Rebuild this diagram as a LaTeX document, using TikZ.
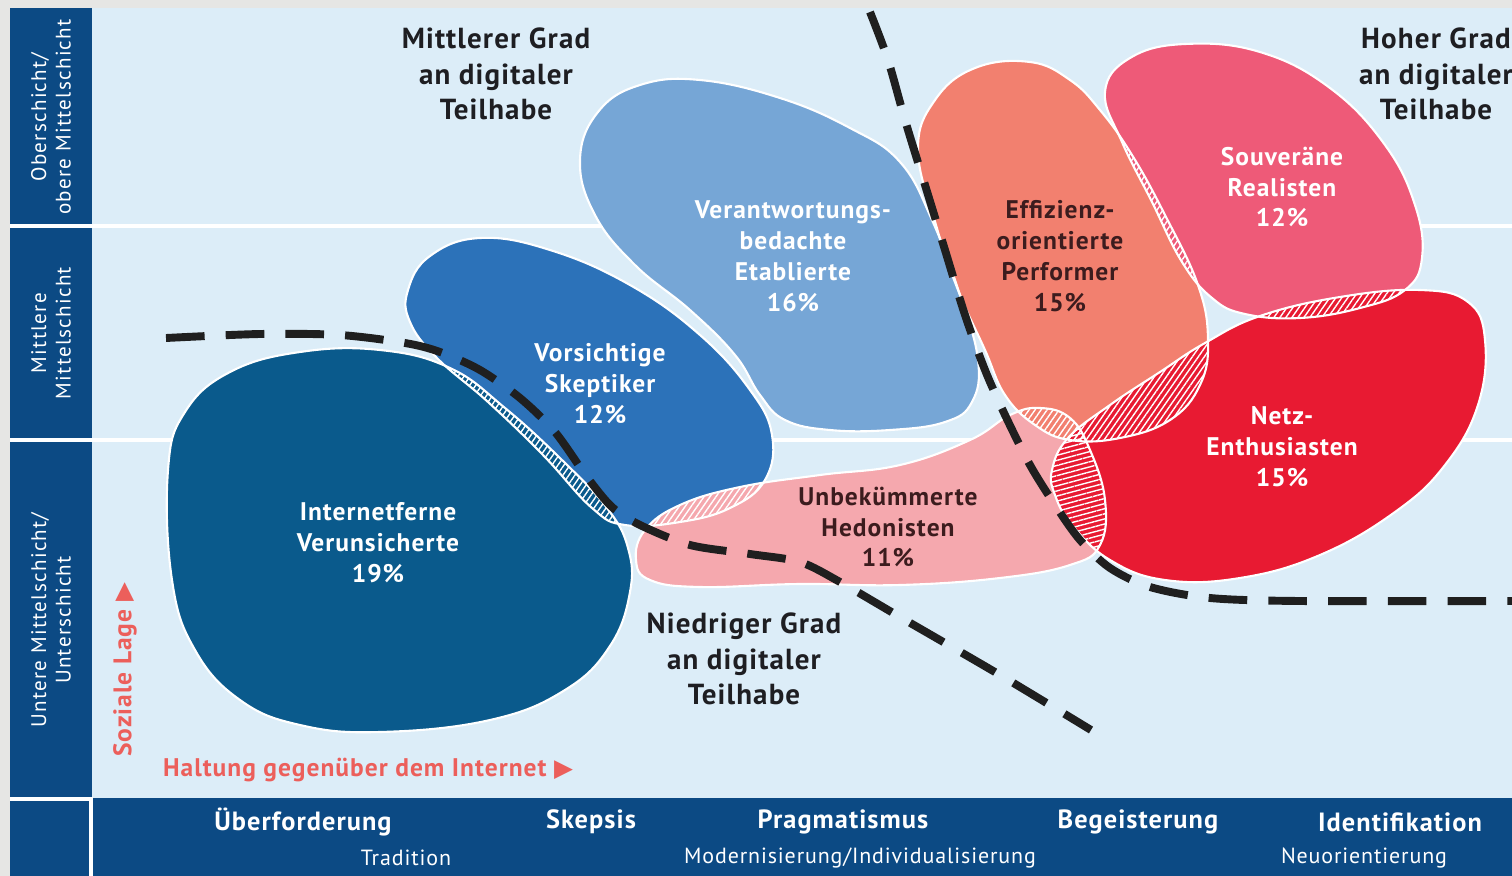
\documentclass[tikz,border=0pt]{standalone}
\usepackage{fontspec}
\setmainfont{PT Sans}
\newfontfamily\symfont{DejaVu Sans}
\newfontfamily\lsfont[LetterSpace=4]{PT Sans}
\newfontfamily\spacedfont[LetterSpace=6]{PT Sans}
\usetikzlibrary{patterns.meta}
\definecolor{outerc}{HTML}{E6E6E4}
\definecolor{panelc}{HTML}{DCEDF8}
\definecolor{navyc}{HTML}{0C4A84}
\definecolor{cI}{HTML}{0A5A8C}
\definecolor{cV}{HTML}{2C72B9}
\definecolor{cE}{HTML}{76A6D6}
\definecolor{cP}{HTML}{F2806F}
\definecolor{cS}{HTML}{EE5A78}
\definecolor{cN}{HTML}{E81A32}
\definecolor{cH}{HTML}{F5A8AE}
\definecolor{salmonc}{HTML}{EC5F5B}
\definecolor{headc}{HTML}{1E1E22}
\definecolor{darklbl}{HTML}{3C1C1E}
\def\pathI{plot[smooth cycle,tension=0.7] coordinates{(168,470) (185,412) (230,372) (300,352) (380,350) (450,368) (505,408) (562,460) (607,508) (628,548) (630,592) (610,646) (565,690) (490,720) (380,732) (300,725) (240,700) (195,650) (172,580)}}
\def\pathV{plot[smooth cycle,tension=0.7] coordinates{(408,290) (430,256) (480,238) (550,250) (630,285) (700,335) (750,390) (772,435) (765,480) (730,508) (680,522) (625,525) (592,508) (543,455) (488,402) (437,358) (410,322)}}
\def\pathE{plot[smooth cycle,tension=0.7] coordinates{(580,160) (598,112) (640,85) (700,80) (780,98) (850,128) (900,162) (932,220) (960,295) (978,360) (972,402) (945,422) (890,430) (830,430) (785,420) (760,395) (735,355) (690,310) (635,265) (595,215)}}
\def\pathP{plot[smooth cycle,tension=0.7] coordinates{(918,150) (935,100) (975,68) (1030,62) (1070,80) (1100,110) (1132,155) (1165,215) (1198,285) (1208,340) (1200,385) (1170,420) (1120,438) (1070,440) (1035,425) (1005,395) (985,350) (958,290) (936,225)}}
\def\pathS{plot[smooth cycle,tension=0.7] coordinates{(1105,92) (1130,58) (1185,44) (1260,52) (1330,88) (1385,145) (1415,205) (1422,258) (1405,290) (1360,308) (1300,318) (1245,314) (1212,298) (1182,262) (1152,202) (1122,142)}}
\def\pathN{plot[smooth cycle,tension=0.7] coordinates{(1052,470) (1068,438) (1110,405) (1160,372) (1205,343) (1260,316) (1340,297) (1420,290) (1468,302) (1485,340) (1478,405) (1445,465) (1395,512) (1320,555) (1240,578) (1165,580) (1110,560) (1072,525) (1055,495)}}
\def\pathH{plot[smooth cycle,tension=0.7] coordinates{(636,560) (645,530) (680,505) (740,487) (820,475) (900,465) (970,440) (1010,415) (1040,408) (1070,418) (1090,450) (1105,500) (1100,545) (1070,565) (1000,578) (900,585) (800,584) (700,587) (650,580)}}
\begin{document}
\begin{tikzpicture}[x=0.02cm,y=-0.02cm,
  lbl/.style={font=\lsfont\bfseries\fontsize{14.5}{17.6}\selectfont,align=center,text=white,inner sep=0pt},
  hd/.style={font=\lsfont\bfseries\fontsize{16.5}{20.4}\selectfont,align=center,text=headc,inner sep=0pt},
  axl/.style={font=\lsfont\bfseries\fontsize{15}{17}\selectfont,text=white,inner sep=0pt},
  axs/.style={font=\lsfont\fontsize{12.5}{14}\selectfont,text=white,inner sep=0pt},
  coll/.style={font=\spacedfont\fontsize{12}{14}\selectfont,text=white,align=center,rotate=90,inner sep=0pt},
  axt/.style={font=\lsfont\bfseries\fontsize{14.5}{16}\selectfont,text=salmonc,inner sep=0pt},
  bnd/.style={line width=4.5pt,dash pattern=on 22pt off 12pt,black!88},
  hatch/.style={pattern={Lines[angle=55,distance=2.8pt,line width=0.8pt]},pattern color=white},
  outl/.style={draw=white,line width=1.2pt}]
\useasboundingbox (0,0) rectangle (1512,876);
% background
\fill[outerc] (0,0) rectangle (1512,876);
\fill[panelc] (92,8) rectangle (1512,798);
\fill[navyc] (10,8) rectangle (92,876);
\fill[navyc] (92,798) rectangle (1512,876);
\draw[white,line width=1.8pt] (10,226) -- (1512,226);
\draw[white,line width=1.8pt] (10,440) -- (1512,440);
\draw[white,line width=1.8pt] (10,799) -- (91,799) -- (91,876);
% blobs
\fill[cE] \pathE;
\fill[cV] \pathV;
\fill[cI] \pathI;
\fill[cH] \pathH;
\fill[cP] \pathP;
\fill[cS] \pathS;
\fill[cN] \pathN;
% overlaps
\begin{scope}\clip \pathI; \fill[hatch] \pathV; \end{scope}
\begin{scope}\clip \pathV; \fill[hatch] \pathE; \end{scope}
\begin{scope}\clip \pathV; \fill[hatch] \pathH; \end{scope}
\begin{scope}\clip \pathE; \fill[hatch] \pathP; \end{scope}
\begin{scope}\clip \pathP; \fill[hatch] \pathS; \end{scope}
\begin{scope}\clip \pathP; \fill[hatch] \pathN; \end{scope}
\begin{scope}\clip \pathP; \fill[hatch] \pathH; \end{scope}
\begin{scope}\clip \pathS; \fill[hatch] \pathN; \end{scope}
\begin{scope}\clip \pathH; \fill[pattern={Lines[angle=15,distance=2.8pt,line width=0.8pt]},pattern color=white] \pathN; \end{scope}
% outlines
\foreach \p in {\pathE,\pathV,\pathI,\pathH,\pathP,\pathS,\pathN} {\draw[outl] \p;}
% boundaries
\draw[bnd] plot[smooth,tension=0.5] coordinates{(166,338) (260,334) (340,335) (405,343) (440,352) (480,370) (520,398) (555,432) (587,477) (612,507) (640,525) (690,545) (750,554) (800,562) (840,582) (900,617) (1000,675) (1091,730)};
\draw[bnd] plot[smooth,tension=0.5] coordinates{(870,12) (888,60) (905,120) (925,185) (945,250) (965,315) (985,370) (1005,415) (1030,465) (1055,505) (1080,540) (1110,568) (1150,587) (1210,598) (1300,601) (1512,601)};
% headings
\node[hd] (mid) at (496,74) {Mittlerer Grad\\an digitaler\\Teilhabe};
\node[hd] (high) at (1436,74) {Hoher Grad\\an digitaler\\Teilhabe};
\node[hd] (low) at (744,659) {Niedriger Grad\\an digitaler\\Teilhabe};
% blob labels
\node[lbl] (lE) at (793,256) {Verantwortungs-\\bedachte\\Etablierte\\16\%};
\node[lbl] (lV) at (600,384) {Vorsichtige\\Skeptiker\\12\%};
\node[lbl] (lI) at (378,543) {Internetferne\\Verunsicherte\\19\%};
\node[lbl,text=darklbl] (lP) at (1060,256) {Effizienz-\\orientierte\\Performer\\15\%};
\node[lbl] (lS) at (1282,187) {Souveräne\\Realisten\\12\%};
\node[lbl] (lN) at (1282,447) {Netz-\\Enthusiasten\\15\%};
\node[lbl,text=darklbl] (lH) at (888,527) {Unbekümmerte\\Hedonisten\\11\%};
% left column
\node[coll] (c1) at (51,117) {Oberschicht/\\obere Mittelschicht};
\node[coll] (c2) at (51,333) {Mittlere\\Mittelschicht};
\node[coll] (c3) at (51,620) {Untere Mittelschicht/\\Unterschicht};
% axis titles
\node[axt,rotate=90] (ay) at (125,670) {Soziale Lage {\symfont\fontsize{14}{16}\selectfont▶}};
\node[axt] (ax) at (368,770) {Haltung gegenüber dem Internet {\symfont\fontsize{14}{16}\selectfont▶}};
% bottom bar
\node[axl] (b1) at (303,822) {Überforderung};
\node[axl] (b2) at (591,822) {Skepsis};
\node[axl] (b3) at (843,822) {Pragmatismus};
\node[axl] (b4) at (1138,822) {Begeisterung};
\node[axl] (b5) at (1400,822) {Identifikation};
\node[axs] (s1) at (406,858) {Tradition};
\node[axs] (s2) at (860,858) {Modernisierung/Individualisierung};
\node[axs] (s3) at (1364,858) {Neuorientierung};
\end{tikzpicture}
\end{document}
